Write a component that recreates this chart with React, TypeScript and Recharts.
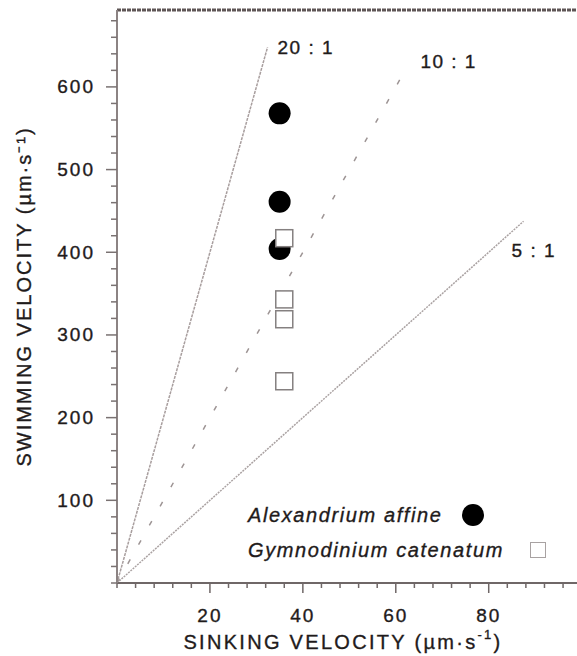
import React from 'react';
import { ScatterChart, Scatter, XAxis, YAxis, ReferenceLine, ReferenceDot, Legend } from 'recharts';

// values
const alexSinking = [35, 35, 35];
const alexSwimming = [568, 461, 404];
const gymnoSinking = [36, 36, 36, 36];
const gymnoSwimming = [417, 343, 319, 244];

const ratioValues = [20, 10, 5];
const ratioLabels = ['20 : 1', '10 : 1', '5 : 1'];
const ratioEndSinking = [32.4, 62.5, 87.5];

const speciesNames = ['Alexandrium affine', 'Gymnodinium catenatum'];

const xMinorTicks = Array.from({ length: 25 }, (_, i) => i * 4);
const yMinorTicks = Array.from({ length: 35 }, (_, i) => i * 20);
const xLabelTicks = [20, 40, 60, 80];
const yLabelTicks = [100, 200, 300, 400, 500, 600];

const FONT = '"Liberation Sans", Arial, sans-serif';
const TEXT = '#1f1b1b';

const lineStyles = [
  { stroke: '#a89e9e', dash: '3 1' },
  { stroke: '#9d9494', dash: '5 17' },
  { stroke: '#aaa2a2', dash: '2 1' },
];
const ratioLabelOffsets = [
  { dx: 10, dy: 0 },
  { dx: 13, dy: -5 },
  { dx: -12, dy: 29 },
];

const alexData = alexSinking.map((x, i) => ({ x, y: alexSwimming[i] }));
const gymnoData = gymnoSinking.map((x, i) => ({ x, y: gymnoSwimming[i] }));

const textProps = { fontFamily: FONT, fill: TEXT, stroke: TEXT, strokeWidth: 0.35 };

const XTick = (props: any) => {
  const { x, y, payload } = props;
  const major = xLabelTicks.includes(payload.value);
  return (
    <g>
      <line x1={x} x2={x} y1={y} y2={y + (major ? 10 : 5)} stroke="#6f6767" strokeWidth={1.5} />
      {major && (
        <text x={x} y={y + 32} textAnchor="middle" dominantBaseline="central" fontSize={19} letterSpacing={2} {...textProps}>
          {payload.value}
        </text>
      )}
    </g>
  );
};

const YTick = (props: any) => {
  const { x, y, payload } = props;
  const major = yLabelTicks.includes(payload.value);
  return (
    <g>
      <line x1={x} x2={x - (major ? 11 : 6)} y1={y} y2={y} stroke="#7a7272" strokeWidth={1.5} />
      {major && (
        <text x={x - 22} y={y} textAnchor="end" dominantBaseline="central" fontSize={19} letterSpacing={2} {...textProps}>
          {payload.value}
        </text>
      )}
    </g>
  );
};

const Circle = (props: any) => <circle cx={props.cx} cy={props.cy} r={11} fill="#000" />;
const Square = (props: any) => (
  <rect x={props.cx - 8.5} y={props.cy - 8.5} width={17} height={17} fill="#fff" stroke="#858080" strokeWidth={1.5} />
);

const ratioLabel = (i: number) => (props: any) => {
  const vb = props.viewBox || {};
  const cx = (vb.x ?? 0) + (vb.width ?? 0) / 2;
  const cy = (vb.y ?? 0) + (vb.height ?? 0) / 2;
  return (
    <text
      x={cx + ratioLabelOffsets[i].dx}
      y={cy + ratioLabelOffsets[i].dy}
      dominantBaseline="central"
      fontSize={19}
      letterSpacing={1.5}
      {...textProps}
    >
      {ratioLabels[i]}
    </text>
  );
};

const LegendBox = () => (
  <div style={{ fontFamily: FONT, fontStyle: 'italic', fontSize: 20, letterSpacing: 1.6, color: TEXT, WebkitTextStroke: '0.35px ' + TEXT, position: 'relative', width: 310, height: 70 }}>
    <div style={{ position: 'absolute', left: 0, top: 0, lineHeight: '36px', whiteSpace: 'nowrap' }}>{speciesNames[0]}</div>
    <div style={{ position: 'absolute', left: 214, top: 7, width: 22, height: 22, borderRadius: 11, background: '#000' }} />
    <div style={{ position: 'absolute', left: 0, top: 35, lineHeight: '36px', whiteSpace: 'nowrap' }}>{speciesNames[1]}</div>
    <div style={{ position: 'absolute', left: 282, top: 45, width: 14, height: 14, border: '1.5px solid #a8a2a2', background: '#fff' }} />
  </div>
);

const AxisTitleX = () => (
  <text x={343} y={642} textAnchor="middle" dominantBaseline="central" fontSize={20} letterSpacing={2.3} {...textProps}>
    SINKING VELOCITY (µm·s
    <tspan dy={-8} fontSize={13}>-1</tspan>
    <tspan dy={8}>)</tspan>
  </text>
);

export default function App() {
  return (
    <div style={{ position: 'absolute', left: 0, top: 0, width: 577, height: 656, background: '#fff' }}>
      <ScatterChart width={577} height={656} margin={{ top: 10, right: 0, bottom: 0, left: 0 }}>
        <XAxis
          type="number"
          dataKey="x"
          domain={[0, 99]}
          ticks={xMinorTicks}
          interval={0}
          allowDataOverflow
          height={73}
          tickSize={0}
          tickMargin={0}
          tickLine={false}
          tick={<XTick />}
          axisLine={{ stroke: '#6f6767', strokeWidth: 2 }}
          label={() => <AxisTitleX />}
        />
        <YAxis
          type="number"
          dataKey="y"
          domain={[0, 693]}
          ticks={yMinorTicks}
          interval={0}
          allowDataOverflow
          width={117}
          tickSize={0}
          tickMargin={0}
          tickLine={false}
          tick={<YTick />}
          axisLine={{ stroke: '#8c8383', strokeWidth: 2 }}
          label={{
            value: 'SWIMMING VELOCITY (µm·s⁻¹)',
            angle: -90,
            position: 'insideLeft',
            offset: 0,
            dx: 24,
            style: { fontFamily: FONT, fontSize: 20, letterSpacing: 2, fill: TEXT, stroke: TEXT, strokeWidth: 0.35, textAnchor: 'middle' },
          }}
        />
        <ReferenceLine y={693} stroke="#5e5555" strokeWidth={3} strokeDasharray="4 1" ifOverflow="extendDomain" />
        {ratioValues.map((r, i) => (
          <ReferenceLine
            key={`line-${r}`}
            segment={[
              { x: 0, y: 0 },
              { x: ratioEndSinking[i], y: ratioEndSinking[i] * r },
            ]}
            stroke={lineStyles[i].stroke}
            strokeWidth={1.5}
            strokeDasharray={lineStyles[i].dash}
          />
        ))}
        {ratioValues.map((r, i) => (
          <ReferenceDot
            key={`label-${r}`}
            x={ratioEndSinking[i]}
            y={ratioEndSinking[i] * r}
            r={0}
            stroke="none"
            fill="none"
            label={ratioLabel(i)}
          />
        ))}
        <Scatter name={speciesNames[0]} data={alexData} shape={<Circle />} isAnimationActive={false} />
        <Scatter name={speciesNames[1]} data={gymnoData} shape={<Square />} isAnimationActive={false} />
        <Legend
          layout="horizontal"
          verticalAlign="middle"
          align="center"
          content={() => <LegendBox />}
          wrapperStyle={{ left: 248, top: 497, width: 310, height: 70 }}
        />
      </ScatterChart>
    </div>
  );
}
